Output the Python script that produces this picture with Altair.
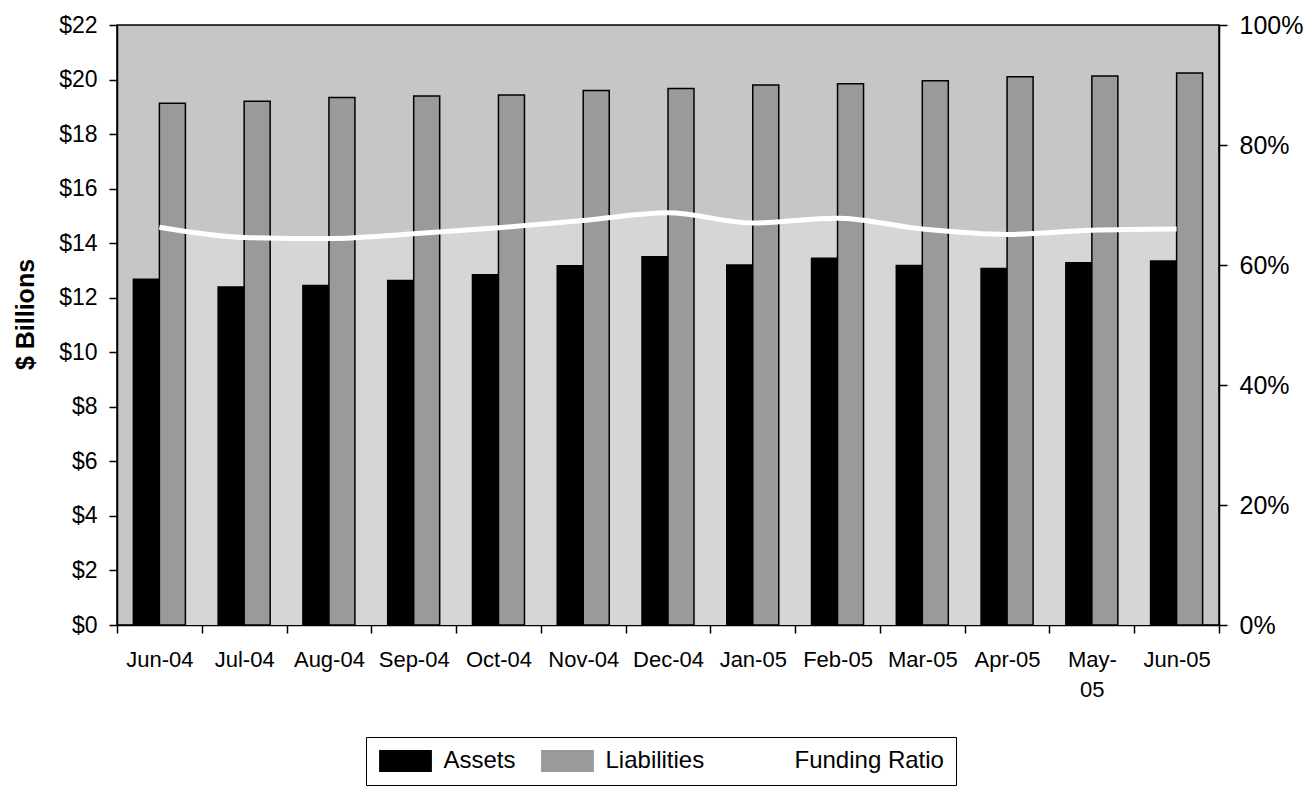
import altair as alt
import pandas as pd

FONT = "Liberation Sans"

# Month categories along the x axis
months = ["Jun-04", "Jul-04", "Aug-04", "Sep-04", "Oct-04", "Nov-04", "Dec-04",
          "Jan-05", "Feb-05", "Mar-05", "Apr-05", "May-05", "Jun-05"]

# $ billions
assets = [12.68, 12.39, 12.45, 12.63, 12.84, 13.17, 13.50,
          13.20, 13.45, 13.18, 13.07, 13.28, 13.35]
liabilities = [19.13, 19.20, 19.34, 19.40, 19.43, 19.60, 19.67,
               19.80, 19.85, 19.96, 20.10, 20.13, 20.24]

# Funding ratio (share of liabilities covered by assets)
funding_ratio = [0.663, 0.646, 0.644, 0.652, 0.662, 0.674, 0.687,
                 0.670, 0.678, 0.660, 0.651, 0.658, 0.660]

series_names = ["Assets", "Liabilities", "Funding Ratio"]

bars_df = pd.DataFrame({
    "month": months * 2,
    "series": ["Assets"] * len(months) + ["Liabilities"] * len(months),
    "value": assets + liabilities,
})
ratio_df = pd.DataFrame({"month": months, "ratio": funding_ratio})

x_enc = alt.X(
    "month:N",
    sort=months,
    scale=alt.Scale(paddingInner=0, paddingOuter=0),
    axis=alt.Axis(
        title=None,
        labelAngle=0,
        labelFont=FONT,
        labelFontSize=22,
        labelColor="black",
        labelPadding=16,
        labelLineHeight=30,
        labelExpr="datum.label == 'May-05' ? ['May-', '05'] : datum.label",
        tickBand="extent",
        tickSize=8,
        tickColor="black",
        tickWidth=1.5,
        domainColor="black",
        domainWidth=1.5,
    ),
)

# light fill beneath the funding-ratio curve (secondary axis)
ratio_area = alt.Chart(ratio_df).mark_area(
    color="#d6d6d6", interpolate="monotone"
).encode(
    x=x_enc,
    y=alt.Y(
        "ratio:Q",
        scale=alt.Scale(domain=[0, 1], nice=False, zero=True),
        axis=alt.Axis(
            orient="right",
            title=None,
            values=[0, 0.2, 0.4, 0.6, 0.8, 1.0],
            format=".0%",
            grid=False,
            labelFont=FONT,
            labelFontSize=25,
            labelColor="black",
            labelPadding=12,
            tickSize=8,
            tickColor="black",
            tickWidth=1.5,
            domainColor="black",
            domainWidth=1.5,
        ),
    ),
)

bars = alt.Chart(bars_df).mark_bar(stroke="black", strokeWidth=1.5).encode(
    x=x_enc,
    xOffset=alt.XOffset(
        "series:N",
        sort=["Assets", "Liabilities"],
        scale=alt.Scale(paddingInner=0, paddingOuter=0.63),
    ),
    y=alt.Y(
        "value:Q",
        scale=alt.Scale(domain=[0, 22], nice=False),
        axis=alt.Axis(
            orient="left",
            title="$ Billions",
            titleFont=FONT,
            titleFontSize=25,
            titleFontWeight="bold",
            titleColor="black",
            titleAngle=270,
            titleBaseline="alphabetic",
            titleAlign="center",
            titleX=-84,
            titleY=289,
            values=list(range(0, 23, 2)),
            labelExpr="'$' + datum.value",
            grid=False,
            labelFont=FONT,
            labelFontSize=23,
            labelColor="black",
            labelPadding=12,
            tickSize=8,
            tickColor="black",
            tickWidth=1.5,
            domainColor="black",
            domainWidth=1.5,
        ),
    ),
    color=alt.Color(
        "series:N",
        scale=alt.Scale(domain=series_names, range=["#000000", "#9a9a9a", "#ffffff"]),
        legend=alt.Legend(
            title=None,
            orient="none",
            legendX=249,
            legendY=712,
            direction="horizontal",
            # wide swatch drawn around a 22px nominal symbol
            symbolType="M-2.4,-1H2.4V1H-2.4Z",
            symbolSize=484,
            symbolOffset=15.5,
            symbolStrokeWidth=0,
            symbolOpacity=1,
            labelFont=FONT,
            labelFontSize=24,
            labelColor="black",
            labelOffset=26,
            columnPadding=24,
            padding=12,
            strokeColor="black",
            fillColor="white",
        ),
    ),
)

ratio_line = alt.Chart(ratio_df).mark_line(
    color="white", strokeWidth=5, interpolate="monotone"
).encode(
    x=x_enc,
    y=alt.Y("ratio:Q", scale=alt.Scale(domain=[0, 1], nice=False), axis=None),
)

chart = alt.layer(ratio_area, bars, ratio_line).resolve_scale(
    y="independent"
).properties(
    width=1102,
    height=600,
    autosize=alt.AutoSizeParams(type="none"),
    padding={"left": 117, "top": 25, "right": 92, "bottom": 163},
    background="white",
).configure_view(
    fill="#c6c6c6",
    stroke="black",
    strokeWidth=1.5,
)

chart.save("out.html", embed_options={"renderer": "svg", "actions": False})
